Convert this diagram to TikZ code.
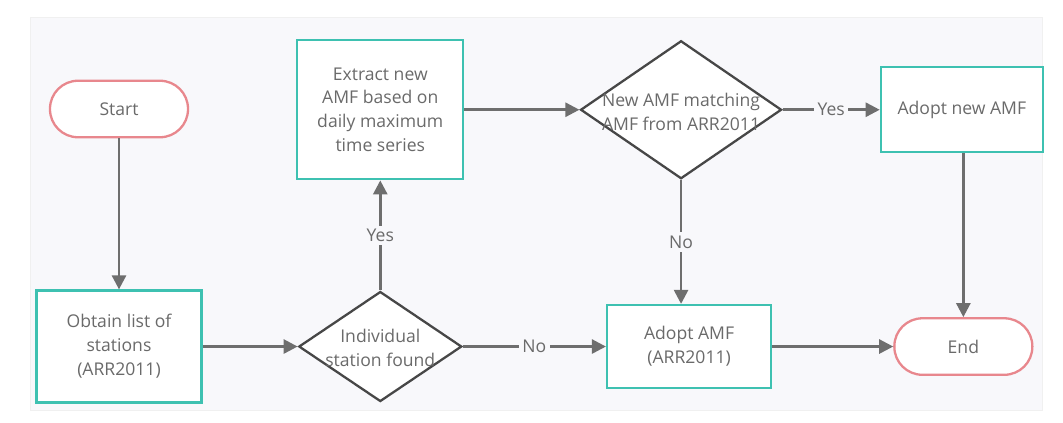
\documentclass[tikz,border=0pt]{standalone}
\usepackage{fontspec}
\setmainfont{Open Sans}
\usetikzlibrary{arrows.meta, positioning, shapes.geometric}
\definecolor{panel}{HTML}{F8F8FB}
\definecolor{tealline}{HTML}{3EC1B1}
\definecolor{redline}{HTML}{E8878D}
\definecolor{flowgray}{HTML}{6E6E6E}
\definecolor{textgray}{HTML}{6A6A6A}
\begin{document}
\begin{tikzpicture}[
  font=\fontsize{10}{13.6}\selectfont, text=textgray,
  terminal/.style={rectangle, rounded corners=0.56cm, draw=redline, line width=1.3pt, fill=white, minimum width=2.76cm, minimum height=1.13cm, align=center},
  process/.style={rectangle, draw=tealline, line width=1.3pt, fill=white, minimum width=3.3cm, align=center},
  decision/.style={diamond, draw=black!72, line width=1.3pt, fill=white, inner sep=0pt, aspect=1.46},
  arrow/.style={-{Triangle[length=8pt, width=8pt]}, draw=flowgray, line width=1.5pt},
  answer/.style={fill=panel, inner sep=2pt}
]

% Frame of the canvas.
\useasboundingbox (0,0) rectangle (21.26,-8.46);
\fill[white] (0,0) rectangle (21.26,-8.46);
\draw[black!6, fill=panel] (0.6,-0.34) rectangle (20.84,-8.2);

% Left column.
\node[terminal] (Start) at (2.38,-2.18) {Start};
\node[process, below=3.02cm of Start, minimum height=2.24cm] (Stations) {Obtain list of\\stations\\(ARR2011)};

% Station check and AMF extraction.
\node[decision, right=1.9cm of Stations, minimum width=3.26cm, minimum height=2.2cm,
  label={[align=center, yshift=-1pt]center:Individual\\station found}] (Found) {};
\node[process, above=2.2cm of Found, minimum width=3.32cm, minimum height=2.78cm] (Extract)
  {Extract new\\AMF based on\\daily maximum\\time series};
\node[decision, right=2.3cm of Extract, minimum width=4.02cm, minimum height=2.76cm,
  label={[align=center, yshift=-1pt]center:New AMF matching\\AMF from ARR2011}] (Match) {};

% Outcomes.
\node[process, right=1.94cm of Match, minimum width=3.24cm, minimum height=1.7cm] (AdoptNew) {Adopt new AMF};
\node[process, right=2.86cm of Found, minimum width=3.28cm, minimum height=1.66cm] (AdoptOld) {Adopt AMF\\(ARR2011)};
\node[terminal, right=2.42cm of AdoptOld] (End) {End};

% Edges.
\draw[arrow] (Start) -- (Stations);
\draw[arrow] (Stations) -- (Found);
\draw[arrow] (Found) -- node[answer] {Yes} (Extract);
\draw[arrow] (Found) -- node[answer] {No} (AdoptOld);
\draw[arrow] (Extract) -- (Match);
\draw[arrow] (Match) -- node[answer] {Yes} (AdoptNew);
\draw[arrow] (Match.south) -- node[answer] {No} (Match.south |- AdoptOld.north);
\draw[arrow] (AdoptOld) -- (End);
\draw[arrow] (AdoptNew.south -| End.north) -- (End.north);

\end{tikzpicture}
\end{document}
